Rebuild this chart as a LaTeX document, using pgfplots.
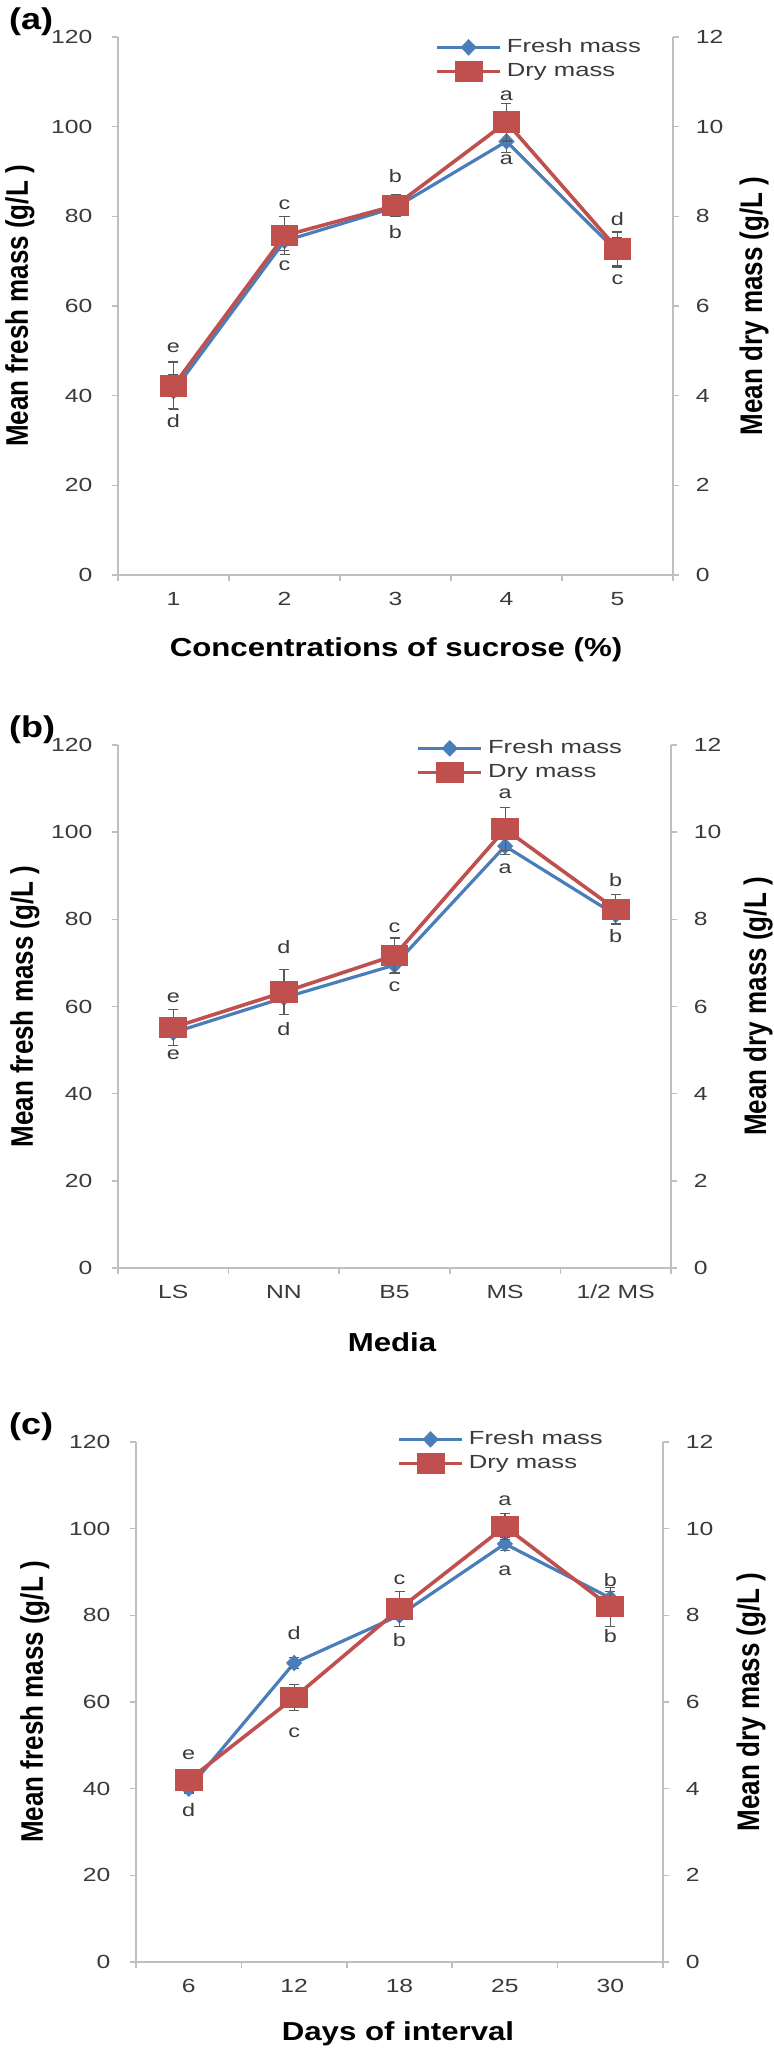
\documentclass[border=0pt]{standalone}
\usepackage{fontspec}
\setmainfont{Liberation Sans}
\usepackage{graphicx}
\usepackage{pgfplots}
\usepackage{pgfplotstable}
\pgfplotsset{compat=1.18}
\definecolor{fblue}{HTML}{4A7EBB}
\definecolor{dred}{HTML}{C0504D}
\definecolor{axgray}{HTML}{BFBFBF}
\definecolor{txt}{HTML}{3A3A3A}

% x  fresh  fresh-err  dry  dry-err
\pgfplotstableread{
x f fe d de
1 41 3.8 4.22 0.53
2 74.5 2.2 7.57 0.42
3 82 2 8.24 0.25
4 96.7 2.5 10.1 0.42
5 72 3.3 7.27 0.38
}\dataA
\pgfplotstableread{
x f fe d de
1 54 3 5.52 0.42
2 62 3.8 6.33 0.52
3 69.5 2 7.17 0.4
4 96.8 2 10.07 0.5
5 81 2 8.23 0.34
}\dataB
\pgfplotstableread{
x f fe d de
1 40 1 4.2 0.2
2 69 1.2 6.1 0.3
3 80 2.5 8.15 0.4
4 96.5 1.5 10.05 0.3
5 84 1.5 8.2 0.45
}\dataC
% significance letters (position in fresh-mass units)
\pgfplotstableread{
x y l
1 50.6 e
2 82.6 c
3 88.9 b
4 106.8 a
5 79.3 d
1 34.3 d
2 69 c
3 76.5 b
4 92.7 a
5 65.9 c
}\letA
\pgfplotstableread{
x y l
1 62.1 e
2 73.6 d
3 78 c
4 108.7 a
5 89.1 b
1 49 e
2 54.8 d
3 64.5 c
4 91.7 a
5 76.1 b
}\letB
\pgfplotstableread{
x y l
1 47.8 e
2 75.8 d
3 88.1 c
4 106.5 a
5 88.1 b
1 35.1 d
2 52.8 c
3 74.3 b
4 90.3 a
5 75.1 b
}\letC

\pgfplotsset{
  common/.style={scale only axis, xmin=0.5, xmax=5.5, ymin=0, clip=false,
    tick align=outside,
    axis line style={axgray, line width=1pt, -},
    tick style={axgray, line width=0.8pt},
    major tick length=3pt,
    ticklabel style={font=\fontsize{9.5}{11}\selectfont, text=txt, xscale=1.3},
    /pgf/number format/assume math mode=true},
  leftax/.style={common, ymax=120, ytick={0,20,...,120},
    axis y line*=left, axis x line*=bottom,
    xtick={0.5,1.5,...,5.5}, xticklabels={},
    yticklabel style={xshift=-4pt},
    xticklabel style={yshift=-5pt},
    extra x ticks={1,2,3,4,5},
    extra x tick style={major tick length=0pt}},
  rightax/.style={common, ymax=12, ytick={0,2,...,12},
    axis y line*=right, axis x line=none,
    yticklabel style={xshift=3pt},
    legend cell align=left,
    legend image code/.code={\draw[mark repeat=2, mark phase=2, ##1] plot coordinates {(0pt,0pt) (15.75pt,0pt) (31.5pt,0pt)};}},
  freshst/.style={fblue, line width=1.6pt, mark=diamond*, mark size=3pt, mark options={fill=fblue, xscale=1.3, solid}},
  dryst/.style={dred, line width=1.8pt, mark=square*, mark size=4.5pt, mark options={fill=dred, xscale=1.35, solid}},
  ebars/.style={error bars/.cd, y dir=both, y explicit,
    error bar style={line width=0.6pt, black!65},
    error mark options={rotate=90, mark size=2.5pt, line width=0.6pt, black!65, xscale=1}},
  lett/.style={draw=none, mark=none, nodes near coords, point meta=explicit symbolic,
    every node near coord/.append style={font=\fontsize{9}{10}\selectfont, text=txt, xscale=1.3, anchor=center}},
  legst/.style={legend style={at={(#1)}, anchor=north west, draw=none, fill=none,
    font=\fontsize{9.5}{11}\selectfont, text=txt, inner sep=0pt, row sep=0pt, column sep=1pt,
    nodes={inner sep=1.5pt, text height=7pt, text depth=2pt}}}
}

\newcommand{\ylab}[1]{\scalebox{1.2}[1]{\bfseries #1}}

\begin{document}
\begin{tikzpicture}
\path[use as bounding box] (0,0) rectangle (387pt,1026pt);

% ================= (a) =================
\begin{axis}[leftax, at={(59pt,738.5pt)}, anchor=south west, width=277.5pt, height=269pt,
  extra x tick labels={1,2,3,4,5}]
  \addplot[freshst, ebars] table[x=x, y=f, y error=fe] {\dataA};
  \addplot[lett] table[x=x, y=y, meta=l] {\letA};
\end{axis}
\begin{axis}[rightax, at={(59pt,738.5pt)}, anchor=south west, width=277.5pt, height=269pt,
  legst={0.571,1.0}, legend style={yshift=1pt}]
  \addlegendimage{freshst}
  \addlegendentry{\scalebox{1.35}[1]{Fresh mass}}
  \addplot[dryst, ebars] table[x=x, y=d, y error=de] {\dataA};
  \addlegendentry{\scalebox{1.35}[1]{Dry mass}}
\end{axis}
\node[anchor=west, font=\fontsize{15}{17}\selectfont\bfseries] at (1pt,1015pt) {\scalebox{1.2}[1]{(a)}};
\node[font=\fontsize{13}{15}\selectfont] at (198pt,701pt) {\ylab{Concentrations of sucrose (\%)}};
\node[font=\fontsize{13}{15}\selectfont, xscale=1.2, rotate=90] at (10pt,873pt) {\bfseries Mean fresh mass (g/L )};
\node[font=\fontsize{13}{15}\selectfont, xscale=1.2, rotate=90] at (377pt,873pt) {\bfseries Mean dry mass (g/L )};

% ================= (b) =================
\begin{axis}[leftax, at={(59pt,392pt)}, anchor=south west, width=276.5pt, height=261.5pt,
  extra x tick labels={LS,NN,B5,MS,1/2 MS}]
  \addplot[freshst, ebars] table[x=x, y=f, y error=fe] {\dataB};
  \addplot[lett] table[x=x, y=y, meta=l] {\letB};
\end{axis}
\begin{axis}[rightax, at={(59pt,392pt)}, anchor=south west, width=276.5pt, height=261.5pt,
  legst={0.539,1.0}, legend style={yshift=4.5pt}]
  \addlegendimage{freshst}
  \addlegendentry{\scalebox{1.35}[1]{Fresh mass}}
  \addplot[dryst, ebars] table[x=x, y=d, y error=de] {\dataB};
  \addlegendentry{\scalebox{1.35}[1]{Dry mass}}
\end{axis}
\node[anchor=west, font=\fontsize{15}{17}\selectfont\bfseries] at (1pt,661pt) {\scalebox{1.2}[1]{(b)}};
\node[font=\fontsize{13}{15}\selectfont] at (196pt,355pt) {\ylab{Media}};
\node[font=\fontsize{13}{15}\selectfont, xscale=1.2, rotate=90] at (12.5pt,522.75pt) {\bfseries Mean fresh mass (g/L )};
\node[font=\fontsize{13}{15}\selectfont, xscale=1.2, rotate=90] at (379pt,522.75pt) {\bfseries Mean dry mass (g/L )};

% ================= (c) =================
\begin{axis}[leftax, at={(68pt,45pt)}, anchor=south west, width=263.5pt, height=260pt,
  extra x tick labels={6,12,18,25,30}]
  \addplot[freshst, ebars] table[x=x, y=f, y error=fe] {\dataC};
  \addplot[lett] table[x=x, y=y, meta=l] {\letC};
\end{axis}
\begin{axis}[rightax, at={(68pt,45pt)}, anchor=south west, width=263.5pt, height=260pt,
  legst={0.495,1.0}, legend style={yshift=7.5pt}]
  \addlegendimage{freshst}
  \addlegendentry{\scalebox{1.35}[1]{Fresh mass}}
  \addplot[dryst, ebars] table[x=x, y=d, y error=de] {\dataC};
  \addlegendentry{\scalebox{1.35}[1]{Dry mass}}
\end{axis}
\node[anchor=west, font=\fontsize{15}{17}\selectfont\bfseries] at (1pt,312.5pt) {\scalebox{1.2}[1]{(c)}};
\node[font=\fontsize{13}{15}\selectfont] at (199pt,9pt) {\ylab{Days of interval}};
\node[font=\fontsize{13}{15}\selectfont, xscale=1.2, rotate=90] at (17.5pt,175pt) {\bfseries Mean fresh mass (g/L )};
\node[font=\fontsize{13}{15}\selectfont, xscale=1.2, rotate=90] at (375.5pt,175pt) {\bfseries Mean dry mass (g/L )};
\end{tikzpicture}
\end{document}
